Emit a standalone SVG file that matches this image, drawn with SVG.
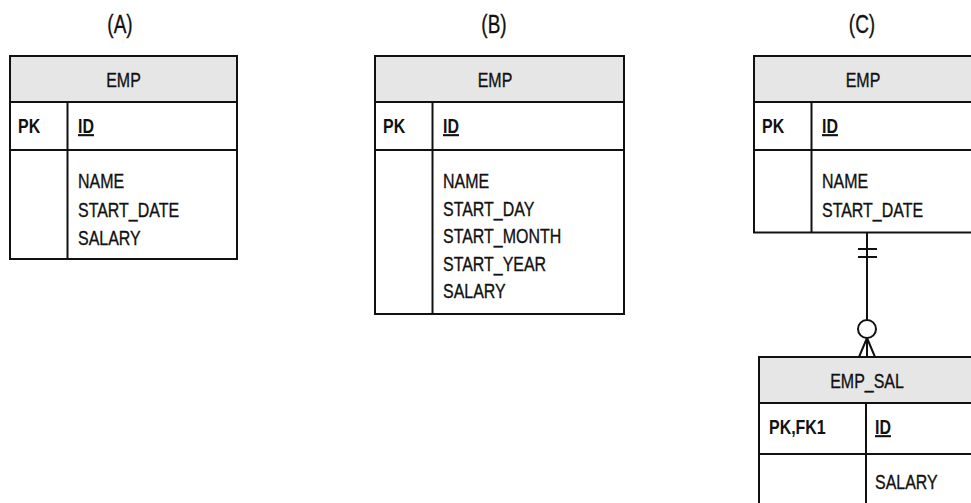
<svg xmlns="http://www.w3.org/2000/svg" width="971" height="503" viewBox="0 0 971 503">
<style>
text{font-family:"Liberation Sans",Arial,sans-serif;fill:#111;font-size:21px;stroke:#111;stroke-width:0.35}
.lbl{font-size:25px;text-anchor:middle}
.hd{text-anchor:middle}
.pk{font-weight:bold;stroke-width:0}
.id{font-weight:bold;text-decoration:underline;stroke-width:0}
.box{fill:#fff;stroke:#111;stroke-width:2}
.head{fill:#e6e6e6;stroke:#111;stroke-width:2}
.ln{stroke:#111;stroke-width:2;fill:none}
.con{stroke:#111;stroke-width:2;fill:none}
</style>
<text class="lbl" transform="translate(120,33) scale(0.76,1)">(A)</text>
<text class="lbl" transform="translate(494,33) scale(0.76,1)">(B)</text>
<text class="lbl" transform="translate(862,33) scale(0.76,1)">(C)</text>

<g id="empA">
<rect class="box" x="10" y="56" width="227" height="203"/>
<rect class="head" x="10" y="56" width="227" height="46"/>
<line class="ln" x1="10" y1="150" x2="237" y2="150"/>
<line class="ln" x1="67.5" y1="102" x2="67.5" y2="259"/>
<text class="hd" transform="translate(123.5,87) scale(0.76,1)">EMP</text>
<text class="pk" transform="translate(18,133) scale(0.76,1)">PK</text>
<text class="id" transform="translate(78,133) scale(0.76,1)">ID</text>
<text transform="translate(78,188) scale(0.76,1)">NAME</text>
<text transform="translate(78,216.5) scale(0.76,1)">START_DATE</text>
<text transform="translate(78,245) scale(0.76,1)">SALARY</text>
</g>

<g id="empB">
<rect class="box" x="375" y="56" width="249" height="258"/>
<rect class="head" x="375" y="56" width="249" height="46"/>
<line class="ln" x1="375" y1="150" x2="624" y2="150"/>
<line class="ln" x1="432.5" y1="102" x2="432.5" y2="314"/>
<text class="hd" transform="translate(495,87) scale(0.76,1)">EMP</text>
<text class="pk" transform="translate(383,133) scale(0.76,1)">PK</text>
<text class="id" transform="translate(443,133) scale(0.76,1)">ID</text>
<text transform="translate(443,188) scale(0.76,1)">NAME</text>
<text transform="translate(443,215.5) scale(0.76,1)">START_DAY</text>
<text transform="translate(443,243) scale(0.76,1)">START_MONTH</text>
<text transform="translate(443,270.5) scale(0.76,1)">START_YEAR</text>
<text transform="translate(443,298) scale(0.76,1)">SALARY</text>
</g>

<g id="empC">
<rect class="box" x="754" y="56" width="220" height="176.5"/>
<rect class="head" x="754" y="56" width="220" height="46"/>
<line class="ln" x1="754" y1="150" x2="974" y2="150"/>
<line class="ln" x1="811.5" y1="102" x2="811.5" y2="232.5"/>
<text class="hd" transform="translate(863,87) scale(0.76,1)">EMP</text>
<text class="pk" transform="translate(762,133) scale(0.76,1)">PK</text>
<text class="id" transform="translate(822,133) scale(0.76,1)">ID</text>
<text transform="translate(822,188) scale(0.76,1)">NAME</text>
<text transform="translate(822,216.5) scale(0.76,1)">START_DATE</text>
</g>

<g id="empSal">
<rect class="box" x="759" y="357" width="220" height="160"/>
<rect class="head" x="759" y="357" width="220" height="46"/>
<line class="ln" x1="759" y1="454" x2="979" y2="454"/>
<line class="ln" x1="866" y1="403" x2="866" y2="510"/>
<text class="hd" transform="translate(867,388) scale(0.76,1)">EMP_SAL</text>
<text class="pk" transform="translate(769,434) scale(0.76,1)">PK,FK1</text>
<text class="id" transform="translate(875,434) scale(0.76,1)">ID</text>
<text transform="translate(875,489) scale(0.76,1)">SALARY</text>
</g>

<g id="connectors">
<line class="con" x1="867" y1="232.5" x2="867" y2="320"/>
<line class="con" x1="858" y1="249" x2="877" y2="249"/>
<line class="con" x1="858" y1="257" x2="877" y2="257"/>
<circle class="con" cx="867" cy="329" r="9" fill="#fff"/>
<path class="con" d="M867,338 L859,357 M867,338 L867,357 M867,338 L875,357"/>
</g>
</svg>
